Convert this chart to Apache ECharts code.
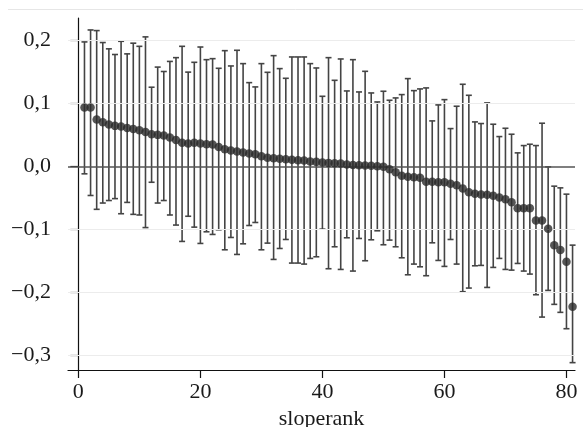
<!DOCTYPE html>
<html lang="en">
<head>
<meta charset="UTF-8" />
<title>sloperank</title>
<script src="https://cdn.jsdelivr.net/npm/echarts@6/dist/echarts.min.js"></script>
<style type="text/css">
html,body{margin:0;padding:0;background:#fff;}
#main{width:583px;height:427px;}
</style>
</head>
<body>
<div id="main"></div>
<script type="text/javascript">
// slope estimate per rank (1..81) with lower / upper bound
var rank = [];
for (var i = 1; i <= 81; i++) rank.push(i);

var slope = [
  0.0937, 0.0937, 0.0746, 0.0704, 0.0667, 0.0646, 0.0635, 0.0614, 0.0598, 0.0577,
  0.0550, 0.0513, 0.0503, 0.0492, 0.0460, 0.0423, 0.0376, 0.0365, 0.0376, 0.0365,
  0.0354, 0.0349, 0.0312, 0.0275, 0.0254, 0.0238, 0.0222, 0.0206, 0.0196, 0.0164,
  0.0138, 0.0132, 0.0122, 0.0116, 0.0106, 0.0101, 0.0095, 0.0079, 0.0074, 0.0063,
  0.0058, 0.0053, 0.0048, 0.0032, 0.0026, 0.0021, 0.0016, 0.0011, 0.0005, -0.0005,
  -0.0042, -0.0090, -0.0148, -0.0164, -0.0169, -0.0180, -0.0243, -0.0243, -0.0249, -0.0249,
  -0.0275, -0.0296, -0.0349, -0.0407, -0.0434, -0.0444, -0.0450, -0.0466, -0.0492, -0.0519,
  -0.0566, -0.0661, -0.0661, -0.0661, -0.0857, -0.0857, -0.0989, -0.1249, -0.1328, -0.1513,
  -0.2228
];
var upper = [
  0.198, 0.217, 0.216, 0.197, 0.187, 0.178, 0.199, 0.179, 0.196, 0.191,
  0.206, 0.126, 0.158, 0.151, 0.167, 0.173, 0.191, 0.150, 0.1656, 0.1899,
  0.1698, 0.1714, 0.1561, 0.1841, 0.1598, 0.1847, 0.1635, 0.1333, 0.1265, 0.1635,
  0.1497, 0.1762, 0.1556, 0.1402, 0.1741, 0.1741, 0.1741, 0.1635, 0.1566, 0.1116,
  0.1730, 0.1370, 0.1709, 0.1201, 0.1698, 0.1185, 0.1513, 0.1169, 0.1026, 0.1196,
  0.1053, 0.1090, 0.1143, 0.1397, 0.1206, 0.1233, 0.1249, 0.0725, 0.0979, 0.1063,
  0.0603, 0.0958, 0.1307, 0.1132, 0.0709, 0.0683, 0.1011, 0.0672, 0.0476, 0.0608,
  0.0513, 0.0217, 0.0333, 0.0354, 0.0333, 0.0688, -0.0005, -0.0312, -0.0339, -0.0439,
  -0.1249
];
var lower = [
  -0.0116, -0.046, -0.068, -0.058, -0.054, -0.051, -0.075, -0.057, -0.076, -0.077,
  -0.097, -0.025, -0.058, -0.054, -0.077, -0.093, -0.119, -0.079, -0.0963, -0.1222,
  -0.1037, -0.1079, -0.1005, -0.1323, -0.1127, -0.1397, -0.1228, -0.0937, -0.0889, -0.1323,
  -0.1217, -0.1476, -0.1302, -0.1159, -0.1534, -0.1534, -0.1550, -0.1460, -0.1434, -0.0995,
  -0.1624, -0.1275, -0.1635, -0.1132, -0.1661, -0.1143, -0.1497, -0.1164, -0.1021, -0.1243,
  -0.1169, -0.1275, -0.1450, -0.1720, -0.1550, -0.1593, -0.1735, -0.1212, -0.1492, -0.1587,
  -0.1159, -0.1550, -0.1989, -0.1931, -0.1577, -0.1571, -0.1921, -0.1603, -0.1460, -0.1635,
  -0.1646, -0.1540, -0.1661, -0.1709, -0.2037, -0.2392, -0.1968, -0.2190, -0.2317, -0.2577,
  -0.3116
];
var xTicks = [0, 20, 40, 60, 80];
var yTicks = [-0.3, -0.2, -0.1, 0, 0.1, 0.2];

var barData = [], dotData = [];
for (var i = 0; i < rank.length; i++) {
  barData.push([rank[i], lower[i], upper[i]]);
  dotData.push([rank[i], slope[i]]);
}

function fmt(v) {
  return v.toFixed(1).replace('.', ',').replace('-', '\u2212');
}

var myChart = echarts.init(document.getElementById('main'));
myChart.setOption({
  animation: false,
  textStyle: { fontFamily: 'Liberation Serif' },
  graphic: [
    { type: 'line', shape: { x1: 8, y1: 9.5, x2: 583, y2: 9.5 }, style: { stroke: '#e6e6e6', lineWidth: 1 } }
  ],
  grid: { left: 68, right: 8, top: 18, bottom: 57, outerBoundsMode: 'none', containLabel: false },
  xAxis: {
    type: 'value',
    min: -1.7,
    max: 81.4,
    name: 'sloperank',
    nameLocation: 'middle',
    nameGap: 34,
    nameTextStyle: { color: '#1a1a1a', fontSize: 22, fontFamily: 'Liberation Serif' },
    axisLine: { onZero: false, lineStyle: { color: '#111', width: 1.2 } },
    axisTick: { show: true, length: 8, customValues: xTicks, lineStyle: { color: '#111', width: 1.2 } },
    axisLabel: { customValues: xTicks, color: '#1a1a1a', fontSize: 22, margin: 11 },
    splitLine: { show: false }
  },
  yAxis: {
    type: 'value',
    min: -0.3233,
    max: 0.236,
    axisLine: { show: true, lineStyle: { color: '#111', width: 1.2 } },
    axisTick: { show: true, length: 8, customValues: yTicks, lineStyle: { color: '#111', width: 1.2 } },
    axisLabel: { customValues: yTicks, color: '#1a1a1a', fontSize: 22, margin: 17, formatter: fmt },
    splitLine: { show: false }
  },
  series: [
    {
      type: 'line',
      data: [],
      silent: true,
      markLine: {
        silent: true,
        symbol: 'none',
        label: { show: false },
        lineStyle: { color: '#ececec', width: 1.2, type: 'solid' },
        data: [{ yAxis: -0.3 }, { yAxis: -0.2 }, { yAxis: -0.1 }, { yAxis: 0.1 }, { yAxis: 0.2 }]
      }
    },
    {
      type: 'custom',
      data: barData,
      silent: true,
      z: 3,
      renderItem: function (params, api) {
        var x = api.value(0);
        var p1 = api.coord([x, api.value(2)]);
        var p2 = api.coord([x, api.value(1)]);
        var cap = 3;
        var st = { stroke: '#444', lineWidth: 1.6 };
        return {
          type: 'group',
          children: [
            { type: 'line', shape: { x1: p1[0], y1: p1[1], x2: p2[0], y2: p2[1] }, style: st },
            { type: 'line', shape: { x1: p1[0] - cap, y1: p1[1], x2: p1[0] + cap, y2: p1[1] }, style: st },
            { type: 'line', shape: { x1: p2[0] - cap, y1: p2[1], x2: p2[0] + cap, y2: p2[1] }, style: st }
          ]
        };
      }
    },
    {
      type: 'line',
      data: [],
      silent: true,
      z: 4,
      markLine: {
        silent: true,
        symbol: 'none',
        label: { show: false },
        lineStyle: { color: '#555', width: 1.5, type: 'solid' },
        data: [{ yAxis: 0 }]
      }
    },
    {
      type: 'scatter',
      data: dotData,
      symbol: 'circle',
      symbolSize: 8.5,
      z: 5,
      itemStyle: { color: '#2b2b2b' }
    }
  ]
});
</script>
</body>
</html>
